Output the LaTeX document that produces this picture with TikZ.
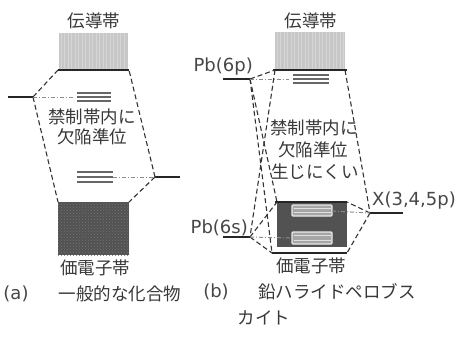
\documentclass[tikz,border=0pt]{standalone}
\usepackage{fontspec}
\usetikzlibrary{patterns}
\newfontfamily\jp{Noto Sans CJK JP}
\newfontfamily\lat{DejaVu Sans}
\begin{document}
\begin{tikzpicture}[x=1pt,y=-1pt,
 jtxt/.style={font=\jp\fontsize{17.5}{20}\selectfont, text=black!78, inner sep=0pt},
 ltxt/.style={font=\lat\fontsize{18}{21}\selectfont, text=black!72, inner sep=0pt},
 lvl/.style={line width=1.8pt, black!85},
 bandedge/.style={line width=1.8pt, black!85},
 conn/.style={dash pattern=on 5pt off 3pt, line width=1.1pt, black!80},
 hint/.style={dash pattern=on 4pt off 2pt on 1pt off 2pt, line width=1pt, black!45},
 trip/.style={line width=1.3pt, black!60},
 cbfill/.style={fill=black!22},
 vbfill/.style={fill=black!68},
 inbox/.style={fill=black!35, draw=white!92!black, line width=1.2pt, rounded corners=1pt}
]
\useasboundingbox (0,0) rectangle (462,338);
\fill[white] (0,0) rectangle (462,338);

% ===== (a) =====
\coordinate (aCBl) at (58,70);
\coordinate (aCBr) at (129,70);
\coordinate (aVBl) at (58,202);
\coordinate (aVBr) at (129,202);
\coordinate (aL) at (33,97);
\coordinate (aLend) at (8,97);
\coordinate (aR) at (155,177);
\coordinate (aRend) at (180,177);
\coordinate (aT1) at (73,97);
\coordinate (aT2) at (113,177);

\fill[cbfill] (59,33) rectangle (128,70);
\foreach \x in {61,64.5,...,127} \draw[black!16, line width=0.5pt] (\x,33) -- (\x,70);
\draw[bandedge] (aCBl) -- (aCBr);
\fill[vbfill] (aVBl) rectangle (129,255);
\fill[pattern=crosshatch dots, pattern color=black!55] (aVBl) rectangle (129,255);

\foreach \y in {93,97,101} \draw[trip] (77,\y) -- (111,\y);
\foreach \y in {172,177,182} \draw[trip] (77,\y) -- (113,\y);

\draw[lvl] (aLend) -- (aL);
\draw[lvl] (aR) -- (aRend);
\draw[conn] (aL) -- (aCBl);
\draw[conn] (aL) -- (aVBl);
\draw[conn] (aR) -- (aCBr);
\draw[conn] (aR) -- (aVBr);
\draw[hint] (aL) -- (aT1);
\draw[hint] (aT2) -- (aR);

\node[jtxt] (aCBt) at (94,21) {伝導帯};
\node[jtxt] (aG1) at (92,117) {禁制帯内に};
\node[jtxt] (aG2) at (92,137) {欠陥準位};
\node[jtxt] (aVBt) at (95,268) {価電子帯};
\node[ltxt] (aLab) at (16,294) {(a)};
\node[jtxt] (aCap) at (120,294) {一般的な化合物};

% ===== (b) =====
\coordinate (bCBl) at (275,70);
\coordinate (bCBr) at (345,70);
\coordinate (bVBtl) at (277,202);
\coordinate (bVBtr) at (347,202);
\coordinate (bVBbl) at (272,253);
\coordinate (bVBbr) at (347,253);
\coordinate (bP) at (250,79);
\coordinate (bPend) at (223,79);
\coordinate (bS) at (250,237);
\coordinate (bSend) at (223,237);
\coordinate (bX) at (370,213);
\coordinate (bXend) at (403,213);
\coordinate (bT1) at (289,79);
\coordinate (bI1) at (332,211);
\coordinate (bI2) at (292,238);

\fill[cbfill] (275,32) rectangle (345,70);
\foreach \x in {277,280.5,...,344} \draw[black!16, line width=0.5pt] (\x,32) -- (\x,70);
\draw[bandedge] (273,70) -- (347,70);
\fill[vbfill] (bVBtl) rectangle (347,247);
\draw[bandedge] (275,202) -- (bVBtr);
\draw[bandedge] (bVBbl) -- (bVBbr);

\foreach \y in {75,79,83} \draw[trip] (293,\y) -- (329,\y);

\draw[inbox] (292,205) rectangle (332,216);
\draw[inbox] (292,232) rectangle (332,244);
\foreach \y in {208.5,212.5,235.5,240} \draw[white!88!black, line width=1pt] (293.5,\y) -- (330.5,\y);

\draw[lvl] (bPend) -- (bP);
\draw[lvl] (bSend) -- (bS);
\draw[lvl] (bX) -- (bXend);

\draw[conn] (bP) -- (bCBl);
\draw[conn] (bP) -- (bVBtl);
\draw[conn] (bP) -- (bVBbl);
\draw[conn] (bCBl) -- (bS);
\draw[conn] (bS) -- (bVBtl);
\draw[conn] (bS) -- (bVBbl);
\draw[conn] (bCBr) -- (bX);
\draw[conn] (bX) -- (bVBtr);
\draw[conn] (bX) -- (bVBbr);
\draw[hint] (bP) -- (bT1);
\draw[hint] (bS) -- (bI2);
\draw[hint] (bI1) -- (bX);

\node[jtxt] (bCBt) at (311,21) {伝導帯};
\node[ltxt, anchor=east] (bPl) at (253,67) {Pb(6p)};
\node[ltxt, anchor=east] (bSl) at (248,228) {Pb(6s)};
\node[ltxt, anchor=west] (bXl) at (372,201) {X(3,4,5p)};
\node[jtxt] (bG1) at (314,128) {禁制帯内に};
\node[jtxt] (bG2) at (313,150) {欠陥準位};
\node[jtxt] (bG3) at (315,172) {生じにくい};
\node[jtxt] (bVBt) at (311,266) {価電子帯};
\node[ltxt] (bLab) at (216,292) {(b)};
\node[jtxt] (bCap) at (337,292) {鉛ハライドペロブス};
\node[jtxt] (bCap2) at (264,318) {カイト};
\end{tikzpicture}
\end{document}
